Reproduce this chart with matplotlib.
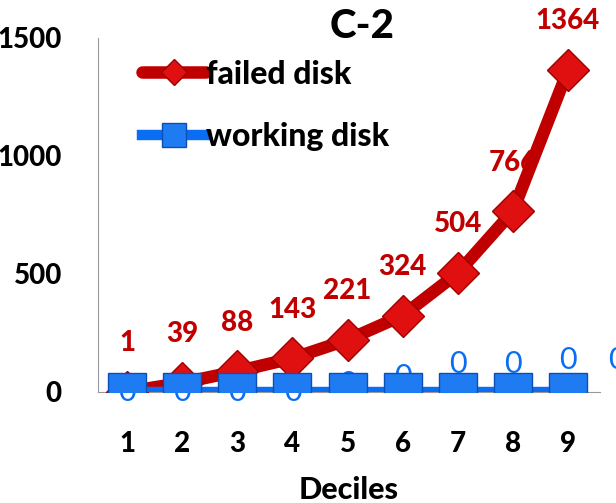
import matplotlib.pyplot as plt

plt.rcParams['font.family'] = ['Lato', 'DejaVu Sans']

# 数据
deciles = [1, 2, 3, 4, 5, 6, 7, 8, 9]
failed = [1, 39, 88, 143, 221, 324, 504, 766, 1364]
working = [0, 0, 0, 0, 0, 0, 0, 0, 0]
# 蓝色标签的偏移（点）
blue_off = [0, 0, 0, 0, 6, 11, 20, 20, 23]

red = '#C00000'
blue = '#0A6EF5'
bw = 'black'

fig = plt.figure(figsize=(6.16, 5.03), dpi=100)
ax = fig.add_axes([0.159, 0.2207, 0.815, 0.7038])

for x, o in zip(deciles, blue_off):
    ax.annotate('0', (x, 0), xytext=(0, o), textcoords='offset points',
                ha='center', va='center', color=blue, fontsize=22, zorder=1)

ax.plot(deciles, failed, color=red, lw=9, marker='D', ms=21, mfc='#E01010',
        mec='#A00000', mew=1, label='failed disk', zorder=3, solid_capstyle='round')
ax.plot(deciles, working, color=blue, lw=7.5, marker='s', ms=27, mfc='#1F7BF2',
        mec='#0B4FB5', mew=1, label='working disk', zorder=4)

for x, v in zip(deciles, failed):
    ax.annotate(str(v), (x, v), xytext=(0, 35), textcoords='offset points',
                ha='center', va='center', color=red, fontsize=20, fontweight=bw)

# 右侧被截掉的标签
ax.annotate('0', (1.0, 0), xycoords=('axes fraction', 'data'), xytext=(12, 23),
            textcoords='offset points', ha='center', va='center', color=blue,
            fontsize=22, annotation_clip=False)

ax.set_xlim(0.47, 9.58)
ax.set_ylim(0, 1500)
ax.set_yticks([0, 500, 1000, 1500])
ax.set_xticks(deciles)
ax.tick_params(length=0, labelsize=20)
ax.tick_params(axis='y', pad=26)
ax.tick_params(axis='x', pad=28)
for lb in ax.get_xticklabels() + ax.get_yticklabels():
    lb.set_fontweight(bw)
for s in ['top', 'right']:
    ax.spines[s].set_visible(False)
ax.spines['left'].set_color('#999999')
ax.spines['bottom'].set_color('#999999')
ax.set_xlabel('Deciles', fontsize=22, fontweight=bw, labelpad=14)

fig.text(0.588, 0.947, 'C-2', ha='center', va='center', fontsize=29, fontweight=bw)
ax.legend(loc='upper left', bbox_to_anchor=(0.03, 1.02), frameon=False,
          prop={'weight': bw, 'size': 23}, handlelength=2.0,
          handletextpad=0.0, labelspacing=1.05, markerscale=0.65)

plt.savefig('out.png', dpi=100)
